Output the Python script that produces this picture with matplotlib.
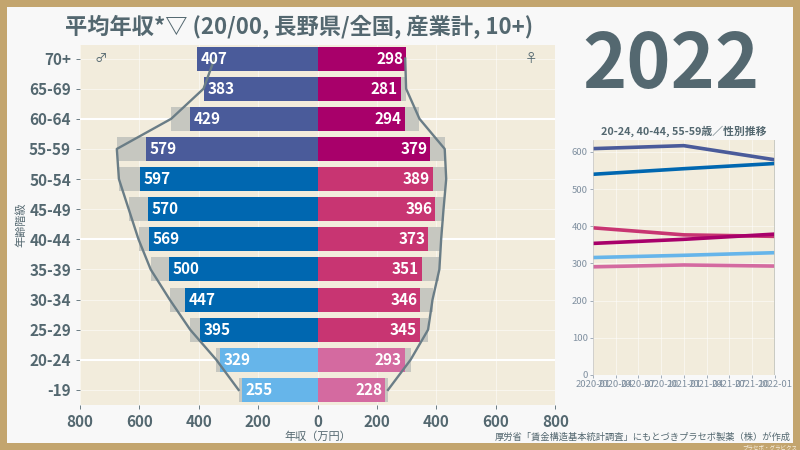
import matplotlib.pyplot as plt
from matplotlib.patches import Rectangle

plt.rcParams['font.family'] = ['Noto Sans CJK JP', 'DejaVu Sans']

# --- data ---
ages = ["-19", "20-24", "25-29", "30-34", "35-39", "40-44",
        "45-49", "50-54", "55-59", "60-64", "65-69", "70+"]
male = [255, 329, 395, 447, 500, 569, 570, 597, 579, 429, 383, 407]
female = [228, 293, 345, 346, 351, 373, 396, 389, 379, 294, 281, 298]
male_nat = [266, 341, 429, 498, 562, 603, 636, 669, 676, 493, 384, 347]
female_nat = [237, 313, 372, 387, 410, 416, 424, 433, 428, 343, 298, 295]

trend_x = ["2020-01", "2021-01", "2022-01"]
trend_m_55 = [609, 617, 579]
trend_m_40 = [540, 555, 569]
trend_f_40 = [396, 377, 373]
trend_f_55 = [354, 365, 379]
trend_m_20 = [316, 322, 329]
trend_f_20 = [291, 296, 293]

TXT = '#546870'
BG = '#f2ecdc'

def male_color(a):
    if a in ("-19", "20-24"):
        return '#66b5ea'
    if a in ("55-59", "60-64", "65-69", "70+"):
        return '#4a5b9a'
    return '#0067b0'

def female_color(a):
    if a in ("-19", "20-24"):
        return '#d46aa0'
    if a in ("55-59", "60-64", "65-69", "70+"):
        return '#a8006a'
    return '#c83572'

fig = plt.figure(figsize=(8, 4.5), dpi=100)
fig.patch.set_facecolor('#c3a56e')
fig.patches.append(Rectangle((7 / 800, 7 / 450), 786 / 800, 436 / 450,
                             transform=fig.transFigure, facecolor='#f8f8f8',
                             edgecolor='none', zorder=-10))

# --- pyramid ---
ax = fig.add_axes([0.1, 0.1, 0.594, 0.8])
ax.set_facecolor(BG)
y = list(range(len(ages)))
ax.barh(y, [-v for v in male_nat], height=0.8, color='#c6c7c0', zorder=2)
ax.barh(y, female_nat, height=0.8, color='#c6c7c0', zorder=2)
ax.barh(y, [-v for v in male], height=0.8, color=[male_color(a) for a in ages], zorder=3)
ax.barh(y, female, height=0.8, color=[female_color(a) for a in ages], zorder=3)
ax.plot([-v for v in male_nat], y, color='#6a7d86', lw=1.7, zorder=4)
ax.plot(female_nat, y, color='#6a7d86', lw=1.7, zorder=4)

for i in y:
    ax.text(-male[i] + 12, i, str(male[i]), color='white', fontsize=11,
            fontweight='bold', va='center', ha='left', zorder=5)
    ax.text(female[i] - 10, i, str(female[i]), color='white', fontsize=11,
            fontweight='bold', va='center', ha='right', zorder=5)

ax.set_xlim(-800, 800)
ax.set_ylim(-0.5, 11.45)
ax.set_yticks(y)
ax.set_yticklabels(ages)
ticks = [-800, -600, -400, -200, 0, 200, 400, 600, 800]
ax.set_xticks(ticks)
ax.set_xticklabels([str(abs(t)) for t in ticks])
ax.tick_params(colors=TXT, labelsize=11, length=3, width=0.6)
for lab in ax.get_xticklabels() + ax.get_yticklabels():
    lab.set_fontweight('bold')
ax.grid(True, color='white', lw=0.6, alpha=0.6, zorder=1)
for r in (1, 5, 9):
    ax.axhline(r, color='white', lw=1.5, zorder=1)
for s in ax.spines.values():
    s.set_visible(False)
ax.set_axisbelow(True)
ax.set_xlabel("年収（万円）", fontsize=8, color=TXT, labelpad=1)
ax.set_ylabel("年齢階級", fontsize=8, color=TXT, labelpad=2)
ax.text(-730, 11, "♂", fontsize=9, color=TXT, ha='center', va='center')
ax.text(720, 11, "♀", fontsize=9, color=TXT, ha='center', va='center')

# --- trend ---
ax2 = fig.add_axes([0.741, 0.1667, 0.2275, 0.522])
ax2.set_facecolor(BG)
xs = [0, 12, 24]
for vals, c in [(trend_m_55, '#4a5b9a'), (trend_m_40, '#0067b0'),
                (trend_f_40, '#c83572'), (trend_f_55, '#a8006a'),
                (trend_m_20, '#66b5ea'), (trend_f_20, '#d46aa0')]:
    ax2.plot(xs, vals, color=c, lw=2.6)
ax2.set_xlim(0, 24)
ax2.set_ylim(0, 632)
ax2.axvline(24, color='#c6c7c0', lw=2)
ax2.set_xticks(range(0, 25, 3))
ax2.set_xticklabels(["2020-01", "2020-04", "2020-07", "2020-10", "2021-01",
                     "2021-04", "2021-07", "2021-10", "2022-01"])
ax2.set_yticks(range(0, 601, 100))
ax2.tick_params(colors='#8090a0', labelsize=6.8, length=2, width=0.5, pad=1.5)
ax2.grid(True, color='white', lw=0.5, alpha=0.7)
for s in ax2.spines.values():
    s.set_visible(False)
ax2.spines['left'].set_visible(True)
ax2.spines['left'].set_color('#c0c0c0')
ax2.spines['left'].set_linewidth(0.5)
ax2.set_title("20-24, 40-44, 55-59歳／性別推移", fontsize=7.8, color=TXT,
              fontweight='bold', pad=4)

# --- texts ---
fig.text(65 / 800, 1 - 27 / 450, "平均年収*▽ (20/00, 長野県/全国, 産業計, 10+)",
         fontsize=16, fontweight='bold', color=TXT, ha='left', va='center')
fig.text(671 / 800, 1 - 66 / 450, "2022", fontsize=54, fontweight='bold',
         color=TXT, ha='center', va='center')
fig.text(791 / 800, 1 - 437 / 450,
         "厚労省「賃金構造基本統計調査」にもとづきプラセボ製薬（株）が作成",
         fontsize=6.7, color=TXT, ha='right', va='center')
fig.text(797 / 800, 1 - 447 / 450, "プラセボ・グラビクス", fontsize=4,
         color='#f8f0e0', ha='right', va='center')

fig.savefig("out.png", dpi=100, facecolor=fig.get_facecolor())
